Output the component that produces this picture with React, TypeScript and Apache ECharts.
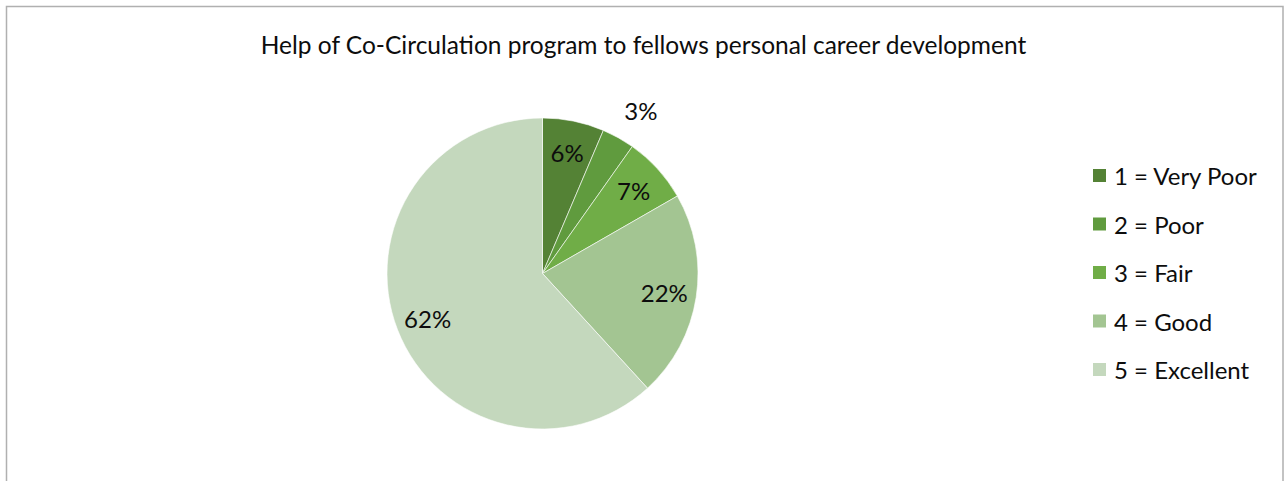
import React, { useEffect, useRef } from "react";
import * as echarts from "echarts";

const titleText = "Help of Co-Circulation program to fellows personal career development";
const categories = ["1 = Very Poor", "2 = Poor", "3 = Fair", "4 = Good", "5 = Excellent"];
const values = [6.4, 3.4, 6.9, 21.5, 61.8];
const colors = ["#548235", "#609b3e", "#70ad47", "#a3c592", "#c4d8bd"];
const outsideLabelIndex = 1;

const FONT = "Lato";

export default function App() {
  const ref = useRef<HTMLDivElement>(null);
  useEffect(() => {
    if (!ref.current) return;
    const chart = echarts.init(ref.current, undefined, { renderer: "svg" });
    const fmt = (p: any) => Math.round(p.percent) + "%";
    const labelStyle = { fontFamily: FONT, fontSize: 24, color: "#0d0d0d" };
    const center = [542.5, 273.5];
    const R = 155.5;
    chart.setOption({
      animation: false,
      backgroundColor: "#ffffff",
      title: {
        text: titleText,
        left: "center",
        top: 32,
        padding: 0,
        textStyle: { fontFamily: FONT, fontSize: 24.5, fontWeight: "normal", color: "#0d0d0d" },
      },
      legend: {
        orient: "vertical",
        left: 1091,
        top: 163.5,
        padding: 0,
        itemWidth: 15,
        itemHeight: 15,
        itemGap: 24.5,
        icon: "rect",
        selectedMode: false,
        textStyle: { fontFamily: FONT, fontSize: 24, color: "#0d0d0d", padding: [0, 0, 0, 2] },
        data: categories.map((c, i) => ({ name: c, itemStyle: { color: colors[i] } })),
      },
      graphic: [
        {
          type: "rect",
          shape: { x: 6.5, y: 6.5, width: 1276.5, height: 520 },
          style: { fill: "none", stroke: "#b0b0b0", lineWidth: 1.5 },
          silent: true,
        },
      ],
      series: [
        {
          type: "pie",
          center,
          radius: R,
          startAngle: 90,
          clockwise: true,
          label: { show: false },
          labelLine: { show: false },
          emphasis: { disabled: true },
          itemStyle: { borderColor: "#ffffff", borderWidth: 0.6 },
          data: categories.map((c, i) => ({ name: c, value: values[i], itemStyle: { color: colors[i] } })),
        },
        {
          type: "pie",
          center,
          radius: [85, R],
          startAngle: 90,
          clockwise: true,
          silent: true,
          label: { show: true, position: "inside", formatter: fmt, ...labelStyle },
          labelLine: { show: false },
          emphasis: { disabled: true },
          data: categories.map((c, i) => ({
            name: c,
            value: values[i],
            itemStyle: { color: "rgba(0,0,0,0)" },
            label: { show: i !== outsideLabelIndex },
          })),
        },
        {
          type: "pie",
          center,
          radius: [174, 200],
          startAngle: 88,
          clockwise: true,
          silent: true,
          label: { show: true, position: "inside", formatter: fmt, ...labelStyle },
          labelLine: { show: false },
          emphasis: { disabled: true },
          data: categories.map((c, i) => ({
            name: c,
            value: values[i],
            itemStyle: { color: "rgba(0,0,0,0)" },
            label: { show: i === outsideLabelIndex },
          })),
        },
      ],
    });
    return () => chart.dispose();
  }, []);
  return (
    <div
      ref={ref}
      style={{ position: "fixed", left: 0, top: 0, width: 1287, height: 481 }}
    />
  );
}
